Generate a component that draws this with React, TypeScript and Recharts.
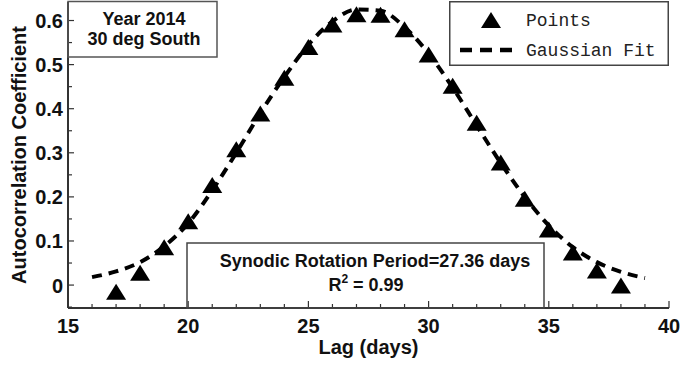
import { ComposedChart, Scatter, Line, XAxis, YAxis, Legend } from 'recharts';

// measured lag values (days) and autocorrelation coefficients
const lagDays = [17, 18, 19, 20, 21, 22, 23, 24, 25, 26, 27, 28, 29, 30, 31, 32, 33, 34, 35, 36, 37, 38];
const acfPoints = [-0.015, 0.028, 0.086, 0.145, 0.227, 0.308, 0.389, 0.47, 0.54, 0.591, 0.614, 0.613, 0.58, 0.523, 0.452, 0.368, 0.278, 0.196, 0.126, 0.074, 0.033, -0.001];

// gaussian fit curve
const fitLag = [16, 17, 18, 19, 20, 21, 22, 23, 24, 25, 26, 27, 28, 29, 30, 31, 32, 33, 34, 35, 36, 37, 38, 39];
const fitAcf = [0.018, 0.031, 0.052, 0.088, 0.14, 0.215, 0.3, 0.39, 0.472, 0.545, 0.598, 0.625, 0.622, 0.585, 0.525, 0.448, 0.362, 0.277, 0.2, 0.135, 0.086, 0.052, 0.03, 0.016];

const xTicks = [15, 16, 17, 18, 19, 20, 21, 22, 23, 24, 25, 26, 27, 28, 29, 30, 31, 32, 33, 34, 35, 36, 37, 38, 39, 40];
const yTicks = [-0.05, 0, 0.05, 0.1, 0.15, 0.2, 0.25, 0.3, 0.35, 0.4, 0.45, 0.5, 0.55, 0.6];

const pointData = lagDays.map((lag, i) => ({ lag, acf: acfPoints[i] }));
const fitData = fitLag.map((lag, i) => ({ lag, acf: fitAcf[i] }));

const AXIS = '#333';
const INK = '#111';
const SANS = '"Liberation Sans", Arial, Helvetica, sans-serif';
const MONO = '"Liberation Mono", "Courier New", monospace';

const isMajorX = (v: number) => v % 5 === 0;
const isMajorY = (v: number) => Math.abs(v * 10 - Math.round(v * 10)) < 1e-6 && v >= 0;

function BottomTick({ x, y, payload }: any) {
  const v = payload.value;
  const major = isMajorX(v);
  return (
    <g>
      <line x1={x} x2={x} y1={y} y2={y - (major ? 7 : 4)} stroke={AXIS} strokeWidth={1.2} />
      {major && (
        <text x={x} y={y + 25} textAnchor="middle" fontSize={20} fontWeight="bold" fill={INK} fontFamily={SANS}>
          {v}
        </text>
      )}
    </g>
  );
}

function TopTick({ x, y, payload }: any) {
  const major = isMajorX(payload.value);
  return <line x1={x} x2={x} y1={y} y2={y + (major ? 6 : 4)} stroke={AXIS} strokeWidth={1.2} />;
}

function LeftTick({ x, y, payload }: any) {
  const v = payload.value;
  const major = isMajorY(v);
  return (
    <g>
      <line x1={x} x2={x + (major ? 6 : 4)} y1={y} y2={y} stroke={AXIS} strokeWidth={1.2} />
      {major && (
        <text x={x - 5} y={y + 7.5} textAnchor="end" fontSize={20} fontWeight="bold" fill={INK} fontFamily={SANS}>
          {String(v)}
        </text>
      )}
    </g>
  );
}

function RightTick({ x, y }: any) {
  return <line x1={x} x2={x - 5} y1={y} y2={y} stroke={AXIS} strokeWidth={1.2} />;
}

function triangleShape(props: any) {
  const { cx, cy } = props;
  if (cx == null || cy == null) return <g />;
  return <polygon points={`${cx},${cy - 8} ${cx + 10},${cy + 8} ${cx - 10},${cy + 8}`} fill="#000" />;
}

function LegendBox({ payload }: any) {
  const items = [...(payload ?? [])].sort((a: any, b: any) => (a.type === 'triangle' ? -1 : b.type === 'triangle' ? 1 : 0));
  return (
    <svg width={220} height={65} style={{ display: 'block' }}>
      <rect x={0.75} y={0.75} width={218.5} height={63.5} fill="#fff" stroke="#444" strokeWidth={1.5} />
      {items.map((e: any, i: number) => {
        const cy = 19 + i * 30;
        return (
          <g key={e.value}>
            {e.type === 'triangle' ? (
              <polygon points={`42,${cy - 8} 52,${cy + 8} 32,${cy + 8}`} fill="#000" />
            ) : (
              <line x1={11} x2={63} y1={cy} y2={cy} stroke="#000" strokeWidth={4.5} strokeDasharray="12 8" />
            )}
            <text x={77} y={cy + 5.5} fontSize={18} fontFamily={MONO} fill="#222">
              {e.value}
            </text>
          </g>
        );
      })}
    </svg>
  );
}

export default function App() {
  return (
    <div style={{ position: 'absolute', left: 0, top: 0, width: 681, height: 365, background: '#fff' }}>
      <ComposedChart width={681} height={365} margin={{ top: 2, right: 12, bottom: 0, left: 0 }}>
        <XAxis
          dataKey="lag"
          type="number"
          domain={[15, 40]}
          ticks={xTicks}
          interval={0}
          height={57}
          tickSize={0}
          tickMargin={0}
          tickLine={false}
          axisLine={{ stroke: AXIS, strokeWidth: 2 }}
          tick={(p: any) => <BottomTick {...p} />}
          label={{
            content: ({ viewBox }: any) => (
              <text x={viewBox.x + viewBox.width / 2} y={354} textAnchor="middle" fontSize={20} fontWeight="bold" fill={INK} fontFamily={SANS}>
                Lag (days)
              </text>
            ),
          }}
        />
        <XAxis
          xAxisId="top"
          orientation="top"
          type="number"
          domain={[15, 40]}
          ticks={xTicks}
          interval={0}
          height={0}
          tickSize={0}
          tickMargin={0}
          tickLine={false}
          axisLine={{ stroke: AXIS, strokeWidth: 2 }}
          tick={(p: any) => <TopTick {...p} />}
        />
        <YAxis
          type="number"
          domain={[-0.052, 0.642]}
          ticks={yTicks}
          interval={0}
          width={68}
          tickSize={0}
          tickMargin={0}
          tickLine={false}
          axisLine={{ stroke: AXIS, strokeWidth: 2 }}
          tick={(p: any) => <LeftTick {...p} />}
          label={{
            content: ({ viewBox }: any) => {
              const cy = viewBox.y + viewBox.height / 2;
              return (
                <text x={26} y={cy} transform={`rotate(-90 26 ${cy})`} textAnchor="middle" fontSize={20} fontWeight="bold" fill={INK} fontFamily={SANS}>
                  Autocorrelation Coefficient
                </text>
              );
            },
          }}
        />
        <YAxis
          yAxisId="right"
          orientation="right"
          type="number"
          domain={[-0.052, 0.642]}
          ticks={yTicks}
          interval={0}
          width={0}
          tickSize={0}
          tickMargin={0}
          tickLine={false}
          axisLine={{ stroke: AXIS, strokeWidth: 2 }}
          tick={(p: any) => <RightTick {...p} />}
        />
        <Scatter name="Points" data={pointData} dataKey="acf" shape={triangleShape} legendType="triangle" isAnimationActive={false} />
        <Line
          name="Gaussian Fit"
          data={fitData}
          dataKey="acf"
          type="monotone"
          stroke="#000"
          strokeWidth={4}
          strokeDasharray="10 7"
          dot={false}
          activeDot={false}
          legendType="plainline"
          isAnimationActive={false}
        />
        <Legend
          layout="horizontal"
          verticalAlign="middle"
          align="center"
          content={(p: any) => <LegendBox {...p} />}
          wrapperStyle={{ position: 'absolute', left: 449, top: 1, width: 220, height: 65 }}
        />
      </ComposedChart>
      <svg width={681} height={365} style={{ position: 'absolute', left: 0, top: 0, pointerEvents: 'none' }}>
        <g fontFamily={SANS} fontWeight="bold" fontSize={18} fill={INK}>
          <rect x={68} y={1.5} width={149} height={55.5} fill="none" stroke="#555" strokeWidth={1.5} />
          <text x={144} y={25} textAnchor="middle">Year 2014</text>
          <text x={144} y={45} textAnchor="middle">30 deg South</text>
          <rect x={187} y={243} width={357} height={65} fill="none" stroke="#444" strokeWidth={1.5} />
          <text x={375} y={267} textAnchor="middle">Synodic Rotation Period=27.36 days</text>
          <text x={366} y={291} textAnchor="middle">
            R<tspan fontSize={12} dy={-8}>2</tspan>
            <tspan dy={8}> = 0.99</tspan>
          </text>
        </g>
      </svg>
    </div>
  );
}
